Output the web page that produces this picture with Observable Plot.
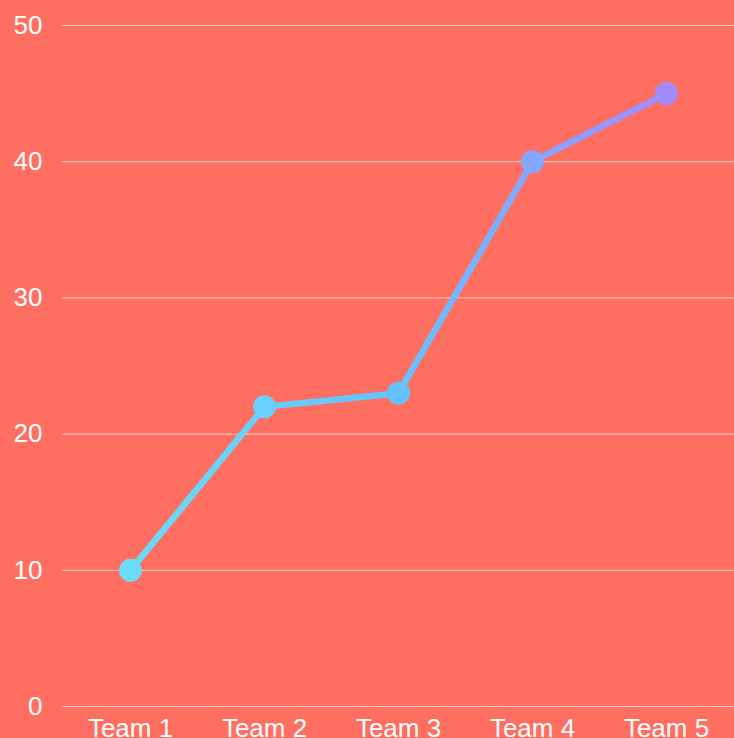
<!DOCTYPE html>
<html>
<head>
<meta charset="utf-8">
<script src="https://cdn.jsdelivr.net/npm/d3@7"></script>
<script src="https://cdn.jsdelivr.net/npm/@observablehq/plot@0.6"></script>
<style>
  html, body { margin: 0; padding: 0; background: #FF6F61; overflow: hidden; }
  #chart svg { display: block; overflow: visible; }
</style>
</head>
<body>
<div id="chart"></div>
<script>
const teams = ["Team 1", "Team 2", "Team 3", "Team 4", "Team 5"];
const scores = [10, 22, 23, 40, 45];
const yTicks = [0, 10, 20, 30, 40, 50];
const gradientStops = ["#6CDCF6", "#66C2FF", "#A38BFF"];

const data = teams.map((t, i) => ({ team: t, score: scores[i], idx: i }));

const chart = Plot.plot({
  width: 734,
  height: 738,
  marginTop: 25,
  marginBottom: 32,
  marginLeft: 62,
  marginRight: 0,
  style: {
    background: "#FF6F61",
    color: "white",
    fontFamily: "'Liberation Sans', Arial, sans-serif",
    fontSize: "26px"
  },
  x: {
    type: "point",
    domain: teams,
    padding: 0.5,
    label: null,
    tickSize: 0,
    tickPadding: 12
  },
  y: {
    domain: [0, 50],
    ticks: yTicks,
    label: null,
    tickSize: 0,
    tickPadding: 20
  },
  color: {
    type: "linear",
    domain: [0, 2, 4],
    range: gradientStops
  },
  marks: [
    Plot.ruleY(yTicks, { stroke: "white", strokeOpacity: 0.65, strokeWidth: 1 }),
    Plot.line(data, {
      x: "team",
      y: "score",
      stroke: "url(#lineGrad)",
      strokeWidth: 6.5,
      strokeLinejoin: "round",
      strokeLinecap: "round"
    }),
    Plot.dot(data, {
      x: "team",
      y: "score",
      r: 11.5,
      fill: "idx",
      stroke: "none"
    })
  ]
});

// gradient definition for the line
const ns = "http://www.w3.org/2000/svg";
const defs = document.createElementNS(ns, "defs");
const grad = document.createElementNS(ns, "linearGradient");
grad.setAttribute("id", "lineGrad");
grad.setAttribute("x1", "0");
grad.setAttribute("y1", "0");
grad.setAttribute("x2", "1");
grad.setAttribute("y2", "0");
gradientStops.forEach((c, i) => {
  const s = document.createElementNS(ns, "stop");
  s.setAttribute("offset", String(i / (gradientStops.length - 1)));
  s.setAttribute("stop-color", c);
  grad.appendChild(s);
});
defs.appendChild(grad);
chart.insertBefore(defs, chart.firstChild);

document.getElementById("chart").appendChild(chart);
</script>
</body>
</html>
